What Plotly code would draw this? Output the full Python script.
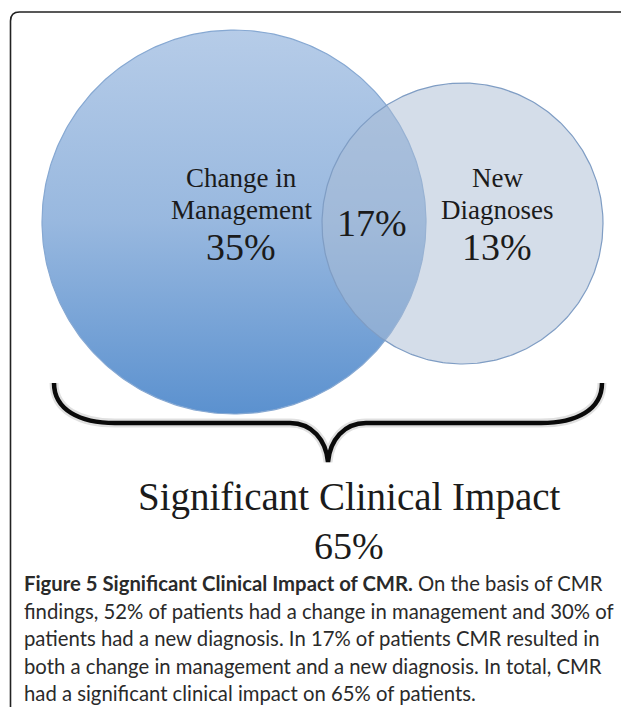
import numpy as np
import plotly.graph_objects as go

# ---------------- data ----------------
set_names = ["Change in Management", "New Diagnoses"]
set_only_pct = [35, 13]          # percent in one set only
overlap_pct = 17                 # percent in both sets
total_pct = 65                   # union
summary_label = "Significant Clinical Impact"
caption_lines = [
    "<b>Figure 5 Significant Clinical Impact of CMR.</b> On the basis of CMR",
    "findings, 52% of patients had a change in management and 30% of",
    "patients had a new diagnosis. In 17% of patients CMR resulted in",
    "both a change in management and a new diagnosis. In total, CMR",
    "had a significant clinical impact on 65% of patients.",
]

# ---------------- geometry / style (page-pixel-like data coordinates) ----------------
PAGE_W, PAGE_H = 629, 707
OFF = 8  # default page body margin
circles = [dict(cx=234, cy=222, r=192), dict(cx=462.5, cy=223.5, r=140.5)]
serif = "Liberation Serif, Times New Roman, serif"
sans = "Lato, Open Sans, sans-serif"

fig = go.Figure()

t = np.linspace(0, 2 * np.pi, 361)
c0 = circles[0]
fig.add_trace(go.Scatter(
    x=c0["cx"] + c0["r"] * np.cos(t), y=c0["cy"] + c0["r"] * np.sin(t),
    mode="lines", fill="toself",
    line=dict(color="#86a8d2", width=1.2),
    fillgradient=dict(type="vertical",
                      colorscale=[[0, "#b6cce8"], [0.5, "#98b8df"], [1, "#5b91cf"]],
                      start=c0["cy"] - c0["r"], stop=c0["cy"] + c0["r"]),
    hoverinfo="skip", showlegend=False))
c1 = circles[1]
fig.add_trace(go.Scatter(
    x=c1["cx"] + c1["r"] * np.cos(t), y=c1["cy"] + c1["r"] * np.sin(t),
    mode="lines", fill="toself",
    line=dict(color="#7f9dc4", width=1.2),
    fillcolor="rgba(170,188,212,0.5)",
    hoverinfo="skip", showlegend=False))

ann = []
txt_col = "#1b1b1b"
label_pos = [(241, [178, 210], 247), (497, [178, 210], 247)]
for name, pct, (lx, ly, py) in zip(set_names, set_only_pct, label_pos):
    words = name.split(" ")
    lines = [" ".join(words[:-1]), words[-1]]
    for line, yy in zip(lines, ly):
        ann.append(dict(x=lx, y=yy, text=line, showarrow=False,
                        font=dict(family=serif, size=27, color=txt_col),
                        xanchor="center", yanchor="middle"))
    ann.append(dict(x=lx, y=py, text=f"{pct}%", showarrow=False,
                    font=dict(family=serif, size=38, color=txt_col),
                    xanchor="center", yanchor="middle"))
ann.append(dict(x=372, y=223, text=f"{overlap_pct}%", showarrow=False,
                font=dict(family=serif, size=38, color=txt_col),
                xanchor="center", yanchor="middle"))
ann.append(dict(x=349, y=497, text=summary_label, showarrow=False,
                font=dict(family=serif, size=39, color=txt_col),
                xanchor="center", yanchor="middle"))
ann.append(dict(x=349, y=546, text=f"{total_pct}%", showarrow=False,
                font=dict(family=serif, size=38, color=txt_col),
                xanchor="center", yanchor="middle"))
for i, line in enumerate(caption_lines):
    ann.append(dict(x=22, y=583 + i * 27.5, text=line, showarrow=False,
                    font=dict(family=sans, size=20.3, color="#2a2a2a"),
                    xanchor="left", yanchor="middle"))

brace = ("M 54 383 C 54 410, 80 423, 115 423 L 290 423 "
         "C 312 423, 326 440, 328 462 "
         "C 330 440, 344 423, 366 423 L 541 423 "
         "C 576 423, 602 410, 602 383")
shapes = [
    dict(type="path", path=brace, xref="x", yref="y",
         line=dict(color="rgba(0,0,0,0.12)", width=9), layer="below"),
    dict(type="path", path=brace, xref="x", yref="y",
         line=dict(color="#0a0a0a", width=4.5)),
    dict(type="path", xref="x", yref="y",
         path="M 10.5 714 L 10.5 21 Q 10.5 12 19.5 12 L 622 12 Q 631 12 631 21 L 631 714",
         line=dict(color="#222222", width=1.6)),
]

fig.update_layout(
    width=PAGE_W - OFF, height=PAGE_H - OFF, margin=dict(l=0, r=0, t=0, b=0, pad=0),
    paper_bgcolor="white", plot_bgcolor="white",
    xaxis=dict(range=[OFF, PAGE_W], visible=False, fixedrange=True),
    yaxis=dict(range=[PAGE_H, OFF], visible=False, fixedrange=True),
    annotations=ann, shapes=shapes, showlegend=False,
)
fig.write_html("out.html", config={"displayModeBar": False})
